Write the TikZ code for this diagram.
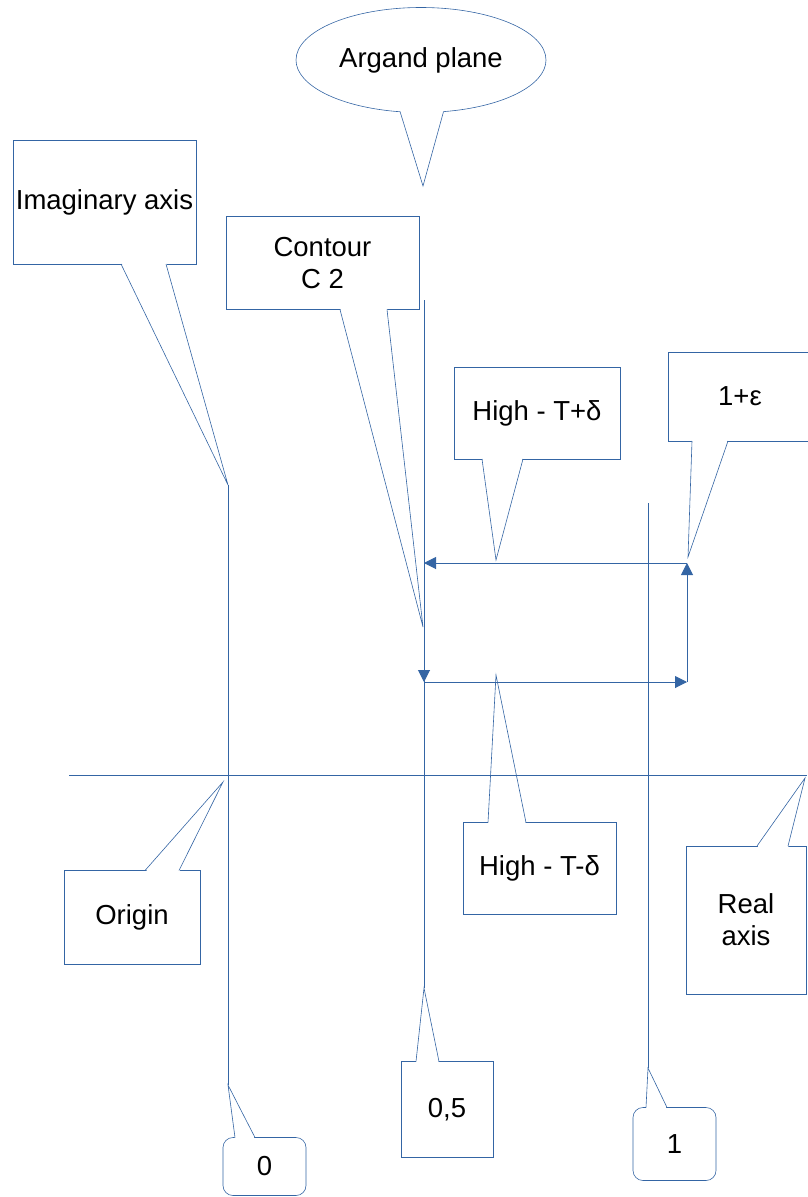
\documentclass[tikz,border=0pt]{standalone}
\usepackage{fontspec}
\setmainfont{Liberation Sans}
\usetikzlibrary{arrows.meta,shapes.callouts}
\definecolor{lineblue}{RGB}{52,101,164}

\begin{document}
\begin{tikzpicture}[x=1pt, y=-1pt,
    font=\fontsize{27.5}{32}\selectfont,
    box/.style={draw=lineblue, line width=0.6pt, inner sep=0pt, align=center},
    edge/.style={lineblue, line width=0.6pt},
    route/.style={lineblue, line width=1pt, -{Triangle[length=12pt,width=12pt]}}]
      \useasboundingbox (0,0) rectangle (807,1197);
      % pointer tips
      \coordinate (argtip) at (423,186);
      \coordinate (imagtip) at (228,485);
      \coordinate (c2tip) at (423,627);
      \coordinate (hptip) at (496,560);
      \coordinate (eptip) at (688,557);
      \coordinate (hmtip) at (496,675);
      \coordinate (ortip) at (223,782);
      \coordinate (ratip) at (805,778);
      \coordinate (halftip) at (424,988);
      \coordinate (onetip) at (648,1068);
      \coordinate (zerotip) at (228,1085);
      % axes ends and contour corners
      \coordinate (reL) at (69,775);
      \coordinate (reR) at (807,775);
      \coordinate (halftop) at (424,300);
      \coordinate (onetop) at (648,503);
      \coordinate (cA) at (424,563);
      \coordinate (cB) at (687,563);
      \coordinate (cC) at (687,682);
      \coordinate (cD) at (424,682);

      \node[ellipse callout, draw=lineblue, line width=0.6pt, inner sep=0pt,
            minimum width=250pt, minimum height=105pt,
            callout absolute pointer={(argtip)}, callout pointer arc=20] (argand) at (421,60) {Argand plane};
      \node[box, minimum width=183pt, minimum height=124pt] (imag) at (104.5,202) {Imaginary axis};
      \node[box, minimum width=193pt, minimum height=93pt] (contour) at (322.5,263) {Contour\\C 2};
      \node[box, minimum width=166pt, minimum height=92pt] (hiplus) at (537,413) {High - T+δ};
      \node[box, minimum width=144pt, minimum height=89pt] (oneeps) at (740,396.5) {1+ε};
      \node[box, minimum width=153pt, minimum height=92pt] (himinus) at (539.5,868.5) {High - T-δ};
      \node[box, minimum width=136pt, minimum height=94pt] (origin) at (132,917.5) {Origin};
      \node[box, minimum width=120pt, minimum height=148pt] (realax) at (746,920) {Real\\axis};
      \node[box, minimum width=92pt, minimum height=96pt] (half) at (447,1109.5) {0,5};
      \node[box, rounded corners=10pt, minimum width=83pt, minimum height=73pt] (one) at (674.5,1144) {1};
      \node[box, rounded corners=10pt, minimum width=83pt, minimum height=58pt] (zero) at (264.5,1166.5) {0};

      % callout tails
      \fill[white] (121,262) -- (imagtip) -- (166,262) -- cycle;
      \draw[edge] (121,264) -- (imagtip) -- (166,264);
      \fill[white] (340,307.5) -- (c2tip) -- (387,307.5) -- cycle;
      \draw[edge] (340,309.5) -- (c2tip) -- (387,309.5);
      \fill[white] (482,457) -- (hptip) -- (523,457) -- cycle;
      \draw[edge] (482,459) -- (hptip) -- (523,459);
      \fill[white] (692,439) -- (eptip) -- (728,439) -- cycle;
      \draw[edge] (692,441) -- (eptip) -- (728,441);
      \fill[white] (488,824.5) -- (hmtip) -- (526,824.5) -- cycle;
      \draw[edge] (488,822.5) -- (hmtip) -- (526,822.5);
      \fill[white] (145,872.5) -- (ortip) -- (179,872.5) -- cycle;
      \draw[edge] (145,870.5) -- (ortip) -- (179,870.5);
      \fill[white] (757,848) -- (ratip) -- (788,848) -- cycle;
      \draw[edge] (757,846) -- (ratip) -- (788,846);
      \fill[white] (416,1063.5) -- (halftip) -- (439,1063.5) -- cycle;
      \draw[edge] (416,1061.5) -- (halftip) -- (439,1061.5);
      \fill[white] (646,1109.5) -- (onetip) -- (667,1109.5) -- cycle;
      \draw[edge] (646,1107.5) -- (onetip) -- (667,1107.5);
      \fill[white] (235,1139.5) -- (zerotip) -- (255,1139.5) -- cycle;
      \draw[edge] (235,1137.5) -- (zerotip) -- (255,1137.5);

      % axes and the lines re = 0.5, re = 1
      \draw[edge] (reL) -- (reR);
      \draw[edge] (imagtip) -- (zerotip);
      \draw[edge] (halftop) -- (halftip);
      \draw[edge] (onetop) -- (onetip);

      % contour
      \draw[route] (cB) -- (cA);
      \draw[route] (cA) -- (cD);
      \draw[route] (cD) -- (cC);
      \draw[route] (cC) -- (cB);
\end{tikzpicture}
\end{document}
